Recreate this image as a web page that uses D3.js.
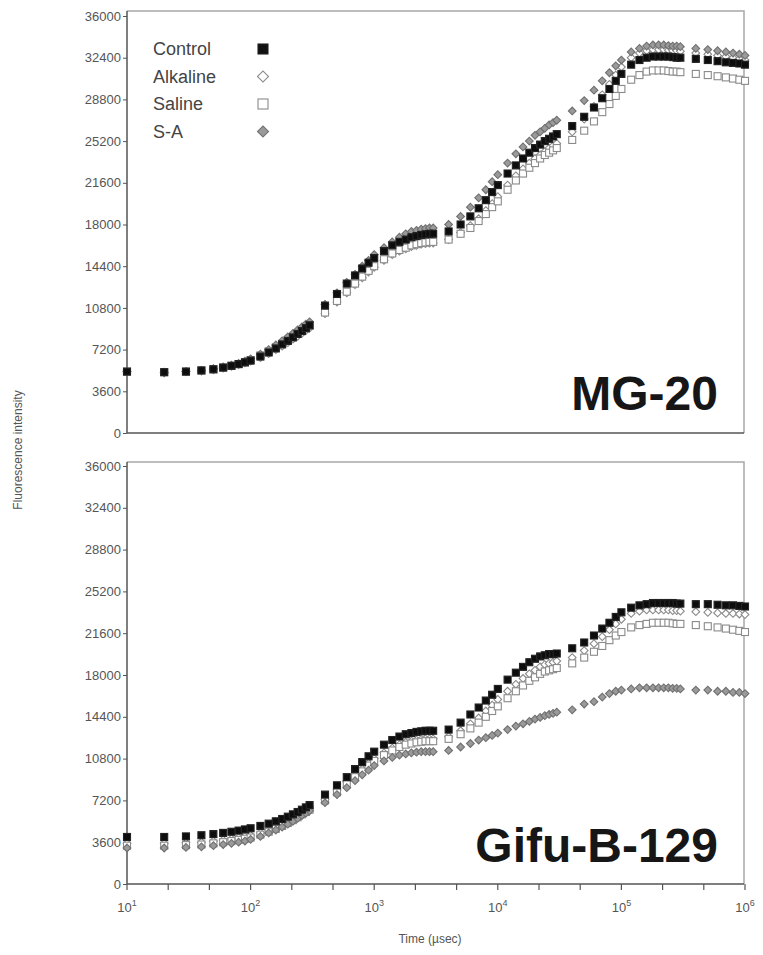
<!DOCTYPE html>
<html>
<head>
<meta charset="utf-8">
<script src="https://cdn.jsdelivr.net/npm/d3@7"></script>
<style>
  body { margin: 0; background: #fff; }
  svg { display: block; font-family: "Liberation Sans", Arial, sans-serif; }
</style>
</head>
<body>
<svg id="chart" width="763" height="955"></svg>
<script>
// Sampling times (µsec) of the fluorescence transient
var times = [10, 20, 30, 40, 50, 60, 70, 80, 90, 100, 120, 140, 160, 180, 200, 220, 240, 260, 280, 300,
  400, 500, 600, 700, 800, 900, 1000, 1200, 1400, 1600, 1800, 2000, 2200, 2400, 2600, 2800, 3000,
  4000, 5000, 6000, 7000, 8000, 9000, 10000, 12000, 14000, 16000, 18000, 20000, 22000, 24000, 26000, 28000, 30000,
  40000, 50000, 60000, 70000, 80000, 90000, 100000, 120000, 140000, 160000, 180000, 200000, 220000, 240000, 260000, 280000, 300000,
  400000, 500000, 600000, 700000, 800000, 900000, 1000000];

// MG-20
var mgControl = [5300, 5250, 5300, 5400, 5500, 5650, 5800, 5950, 6100, 6250, 6600, 6950, 7300, 7650, 7950, 8250, 8550, 8800, 9050, 9300,
  11000, 12000, 12900, 13600, 14200, 14700, 15100, 15700, 16200, 16500, 16700, 16900, 17000, 17100, 17150, 17200, 17200,
  17400, 18000, 18700, 19400, 20100, 20800, 21400, 22400, 23100, 23700, 24200, 24600, 24900, 25200, 25400, 25600, 25800,
  26500, 27300, 28100, 28900, 29700, 30400, 31000, 31800, 32200, 32400, 32500, 32500, 32500, 32500, 32450, 32400, 32400,
  32300, 32200, 32100, 32000, 31950, 31900, 31800];
var mgAlkaline = [5300, 5250, 5300, 5350, 5450, 5600, 5750, 5900, 6050, 6200, 6500, 6850, 7200, 7500, 7800, 8100, 8350, 8600, 8850, 9050,
  10300, 11300, 12100, 12800, 13400, 13900, 14300, 14900, 15400, 15700, 15900, 16100, 16200, 16300, 16350, 16400, 16400,
  16700, 17300, 17900, 18500, 19200, 19800, 20400, 21400, 22200, 22800, 23300, 23700, 24000, 24300, 24600, 24800, 25000,
  26000, 27100, 28200, 29200, 30100, 30900, 31600, 32400, 32800, 33000, 33100, 33100, 33100, 33050, 33000, 33000, 32950,
  32800, 32700, 32600, 32500, 32400, 32300, 32200];
var mgSaline = [5300, 5250, 5300, 5400, 5500, 5650, 5800, 5950, 6100, 6300, 6700, 7050, 7400, 7700, 8000, 8300, 8600, 8850, 9050, 9250,
  10400, 11400, 12200, 12900, 13500, 14000, 14400, 15000, 15500, 15800, 16000, 16200, 16300, 16400, 16450, 16500, 16500,
  16700, 17200, 17700, 18300, 18900, 19500, 20000, 21000, 21800, 22400, 22900, 23300, 23700, 24000, 24200, 24400, 24600,
  25300, 26100, 26900, 27700, 28400, 29100, 29700, 30500, 30900, 31200, 31300, 31300, 31300, 31250, 31200, 31200, 31150,
  31000, 30900, 30800, 30700, 30600, 30500, 30400];
var mgSA = [5300, 5200, 5300, 5400, 5550, 5700, 5850, 6000, 6200, 6400, 6800, 7200, 7600, 7950, 8300, 8600, 8900, 9150, 9400, 9600,
  11100, 12100, 13000, 13700, 14400, 14900, 15400, 16000, 16500, 16900, 17200, 17400, 17500, 17600, 17650, 17700, 17700,
  18000, 18700, 19500, 20300, 21000, 21700, 22300, 23300, 24100, 24700, 25200, 25700, 26000, 26300, 26600, 26800, 27000,
  27800, 28700, 29600, 30400, 31100, 31700, 32200, 32900, 33200, 33400, 33500, 33500, 33500, 33450, 33400, 33400, 33350,
  33200, 33100, 33000, 32900, 32800, 32700, 32600];

// Gifu-B-129
var gfControl = [4050, 4050, 4100, 4200, 4300, 4400, 4500, 4600, 4700, 4800, 5000, 5200, 5400, 5600, 5800, 6000, 6200, 6400, 6600, 6800,
  7700, 8500, 9200, 9900, 10500, 11000, 11400, 12000, 12400, 12700, 12900, 13000, 13100, 13150, 13200, 13200, 13200,
  13300, 13900, 14600, 15200, 15800, 16300, 16800, 17600, 18200, 18700, 19100, 19400, 19600, 19700, 19800, 19800, 19850,
  20300, 20800, 21400, 22000, 22500, 23000, 23400, 23800, 24000, 24100, 24200, 24200, 24200, 24200, 24200, 24150, 24150,
  24100, 24100, 24050, 24000, 24000, 23950, 23900];
var gfAlkaline = [3500, 3500, 3550, 3600, 3700, 3800, 3900, 4000, 4100, 4200, 4400, 4650, 4900, 5150, 5400, 5650, 5900, 6100, 6300, 6500,
  7300, 8100, 8800, 9400, 9900, 10400, 10800, 11300, 11700, 12000, 12200, 12300, 12400, 12450, 12500, 12500, 12500,
  12700, 13200, 13800, 14300, 14900, 15400, 15900, 16600, 17200, 17700, 18100, 18400, 18700, 18900, 19000, 19100, 19200,
  19500, 20100, 20700, 21300, 21900, 22400, 22800, 23300, 23500, 23600, 23600, 23600, 23600, 23600, 23550, 23550, 23500,
  23450, 23400, 23350, 23300, 23300, 23250, 23200];
var gfSaline = [3300, 3300, 3350, 3400, 3500, 3600, 3700, 3800, 3900, 4000, 4250, 4500, 4750, 5000, 5250, 5500, 5750, 6000, 6200, 6400,
  7200, 7900, 8600, 9200, 9700, 10200, 10600, 11100, 11500, 11800, 12000, 12100, 12200, 12250, 12300, 12300, 12300,
  12500, 12900, 13400, 13900, 14400, 14900, 15300, 16000, 16600, 17100, 17500, 17800, 18100, 18300, 18400, 18500, 18600,
  19000, 19500, 20000, 20500, 21000, 21400, 21700, 22100, 22300, 22400, 22500, 22500, 22500, 22500, 22450, 22400, 22400,
  22300, 22200, 22100, 22000, 21900, 21800, 21700];
var gfSA = [3100, 3100, 3150, 3200, 3300, 3400, 3500, 3600, 3700, 3850, 4100, 4400, 4650, 4900, 5150, 5400, 5650, 5900, 6100, 6300,
  7000, 7700, 8300, 8900, 9400, 9800, 10200, 10600, 10900, 11100, 11200, 11300, 11350, 11400, 11400, 11400, 11400,
  11500, 11800, 12100, 12400, 12600, 12800, 13000, 13300, 13600, 13800, 14000, 14200, 14350, 14500, 14600, 14700, 14800,
  15000, 15500, 15700, 16100, 16400, 16600, 16700, 16800, 16900, 16900, 16900, 16900, 16900, 16900, 16850, 16850, 16800,
  16700, 16700, 16600, 16600, 16500, 16500, 16400];

var yTicks = [0, 3600, 7200, 10800, 14400, 18000, 21600, 25200, 28800, 32400, 36000];
var decades = [1, 2, 3, 4, 5, 6];
var legendNames = ["Control", "Alkaline", "Saline", "S-A"];

// marker look per treatment
var styles = {
  "Control":  {shape: "square",  fill: "#111", stroke: "#222"},
  "Alkaline": {shape: "diamond", fill: "#fff", stroke: "#8a8a8a"},
  "Saline":   {shape: "square",  fill: "#fff", stroke: "#8a8a8a"},
  "S-A":      {shape: "diamond", fill: "#9a9a9a", stroke: "#707070"}
};

var svg = d3.select("#chart");
var defs = svg.append("defs");
defs.append("filter").attr("id", "soft")
  .append("feGaussianBlur").attr("stdDeviation", 0.6);

var x = d3.scaleLog().domain([10, 1e6]).range([127, 745]);

var panels = [
  {name: "MG-20", top: 11, y: d3.scaleLinear().domain([0, 36000]).range([433, 16]),
   series: {"Control": mgControl, "Alkaline": mgAlkaline, "Saline": mgSaline, "S-A": mgSA},
   labelY: 410, xLabels: false},
  {name: "Gifu-B-129", top: 462, y: d3.scaleLinear().domain([0, 36000]).range([884, 466]),
   series: {"Control": gfControl, "Alkaline": gfAlkaline, "Saline": gfSaline, "S-A": gfSA},
   labelY: 862, xLabels: true}
];

function marker(sel, st, size) {
  if (st.shape == "square") {
    sel.append("rect")
      .attr("x", -size / 2).attr("y", -size / 2)
      .attr("width", size).attr("height", size);
  } else {
    var s = size * 0.78;
    sel.append("rect")
      .attr("x", -s / 2).attr("y", -s / 2)
      .attr("width", s).attr("height", s)
      .attr("transform", "rotate(45)");
  }
  sel.selectAll("rect")
    .attr("fill", st.fill)
    .attr("stroke", st.stroke)
    .attr("stroke-width", 1.1);
}

panels.forEach(function(p) {
  var y = p.y;
  var g = svg.append("g");

  // frame (light top/right)
  g.append("path")
    .attr("d", "M127," + p.top + "H744V" + y(0))
    .attr("fill", "none").attr("stroke", "#a8a8a8").attr("stroke-width", 1.5);

  // left axis
  var ya = g.append("g").attr("transform", "translate(127,0)")
    .call(d3.axisLeft(y).tickValues(yTicks).tickSize(4).tickSizeOuter(0).tickFormat(d3.format("d")));
  ya.select(".domain").attr("stroke", "#555").attr("stroke-width", 1.5)
    .attr("d", "M0," + p.top + "V" + y(0));
  ya.selectAll(".tick line").attr("stroke", "#555");
  ya.selectAll(".tick text").attr("fill", "#555").style("font-size", "13px")
    .style("font-family", "Liberation Sans, Arial, sans-serif").attr("x", -6);

  // bottom axis
  var xa = g.append("g").attr("transform", "translate(0," + y(0) + ")");
  xa.append("line").attr("x1", 127).attr("x2", 744)
    .attr("stroke", "#555").attr("stroke-width", 1.5);
  if (p.xLabels) {
    var tickVals = [];
    decades.forEach(function(d) {
      tickVals.push(Math.pow(10, d));
      if (d < 6) {
        tickVals.push(Math.pow(10, d + 1 / 3));
        tickVals.push(Math.pow(10, d + 2 / 3));
      }
    });
    xa.selectAll(".xt").data(tickVals).enter().append("line")
      .attr("x1", function(d) { return x(d); }).attr("x2", function(d) { return x(d); })
      .attr("y1", 0).attr("y2", 6)
      .attr("stroke", "#555").attr("stroke-width", 1.2);
    var lab = xa.selectAll(".xl").data(decades).enter().append("text")
      .attr("x", function(d) { return x(Math.pow(10, d)); })
      .attr("y", 28)
      .attr("text-anchor", "middle")
      .attr("fill", "#555")
      .style("font-size", "13px");
    lab.append("tspan").text("10");
    lab.append("tspan").attr("dy", -6).style("font-size", "9px").text(function(d) { return d; });
  }

  // data points
  var dots = g.append("g").attr("filter", "url(#soft)");
  ["Alkaline", "Saline", "S-A", "Control"].forEach(function(name) {
    var vals = p.series[name], st = styles[name];
    dots.selectAll(".pt").data(vals).enter().append("g")
      .attr("transform", function(d, i) { return "translate(" + x(times[i]) + "," + y(d) + ")"; })
      .each(function() { marker(d3.select(this), st, 7); });
  });

  // panel name
  g.append("text")
    .attr("x", 718).attr("y", p.labelY)
    .attr("text-anchor", "end")
    .style("font-size", "48px").style("font-weight", "bold")
    .attr("fill", "#161616")
    .text(p.name);
});

// legend (top panel)
var leg = svg.append("g");
legendNames.forEach(function(name, i) {
  var cy = 49 + i * 27.5;
  leg.append("text").attr("x", 153).attr("y", cy + 6)
    .attr("fill", "#444").style("font-size", "18px").text(name);
  var m = leg.append("g").attr("transform", "translate(263," + cy + ")");
  marker(m, styles[name], 10);
});

// axis titles
svg.append("text")
  .attr("x", 430).attr("y", 943)
  .attr("text-anchor", "middle")
  .attr("fill", "#555").style("font-size", "12px")
  .text("Time (µsec)");
svg.append("text")
  .attr("transform", "translate(22,450) rotate(-90)")
  .attr("text-anchor", "middle")
  .attr("fill", "#555").style("font-size", "12px")
  .text("Fluorescence intensity");
</script>
</body>
</html>
